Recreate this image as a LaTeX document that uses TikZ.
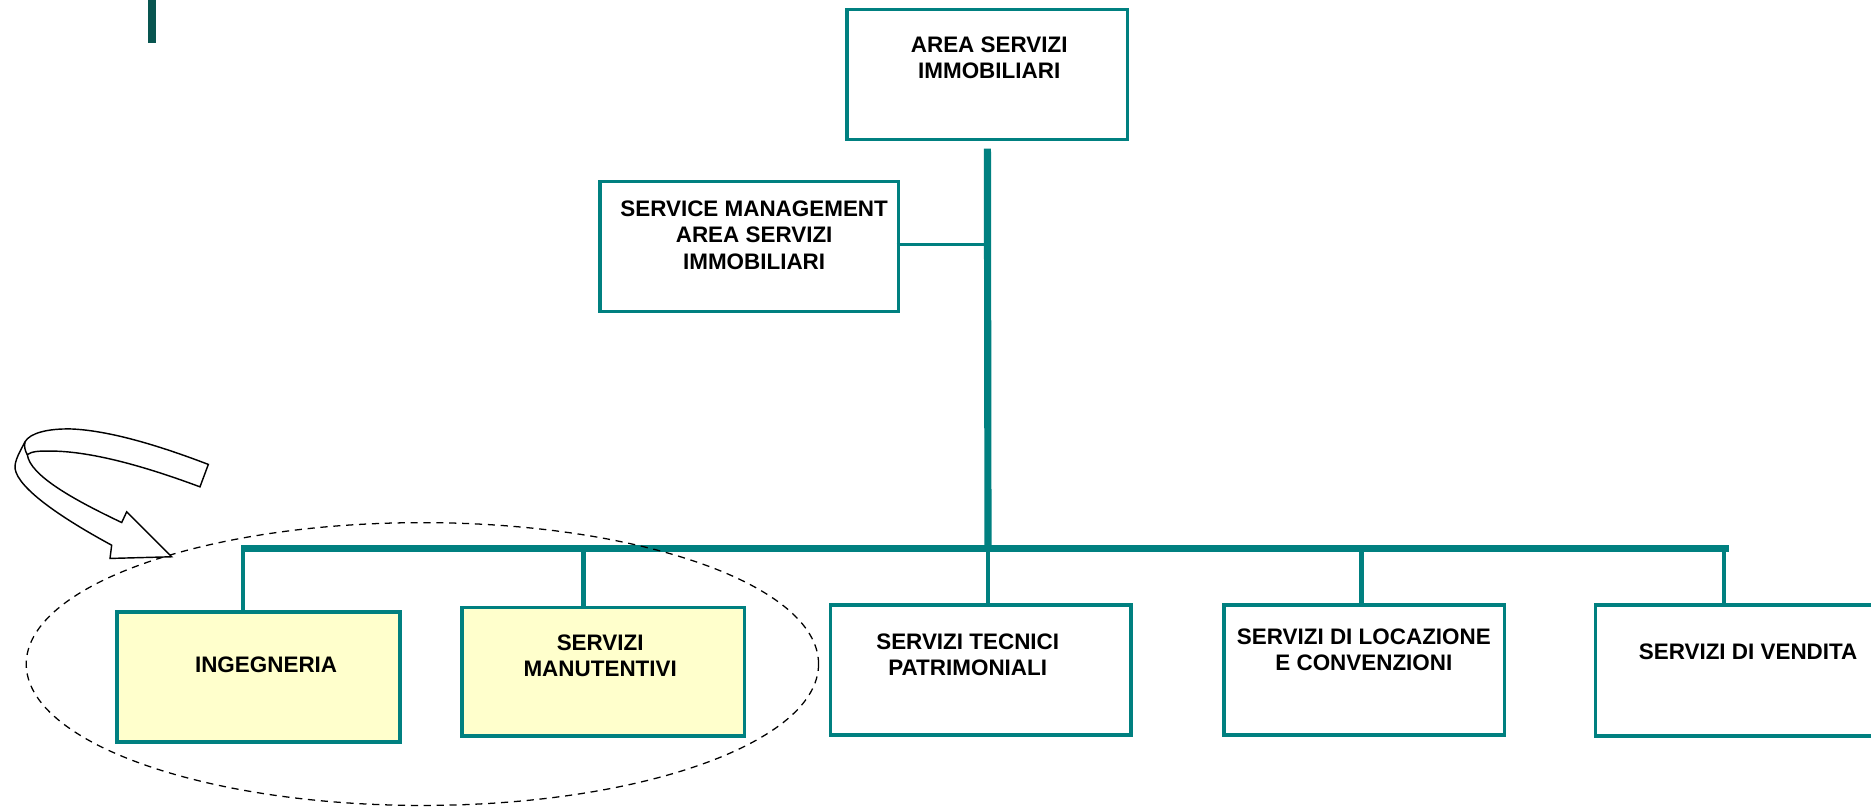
\documentclass[tikz,border=0pt]{standalone}
\usepackage{fontspec}
\setmainfont{Liberation Sans}
\usetikzlibrary{calc,shapes.geometric}
\definecolor{tealline}{RGB}{0,128,128}
\definecolor{darkteal}{RGB}{8,85,80}
\definecolor{paleyellow}{RGB}{255,255,204}
\tikzset{
  boxnode/.style={draw=tealline, line width=2.25pt, inner sep=0pt, anchor=center},
  yellowbox/.style={boxnode, fill=paleyellow},
  txt/.style={font=\bfseries\fontsize{14.1}{16.5}\selectfont, align=center, inner sep=0pt},
  barline/.style={draw=tealline, line width=4.5pt},
  dropline/.style={draw=tealline, line width=2.6pt},
  linkline/.style={draw=tealline, line width=2.3pt},
  arrowline/.style={draw=black, line width=0.9pt, fill=white, line join=miter},
  ovalline/.style={draw=black, line width=0.8pt, dash pattern=on 4.5pt off 3.6pt}
}
\begin{document}
\begin{tikzpicture}[x=0.75pt,y=-0.75pt]
\useasboundingbox (0,0) rectangle (1568,676.3);
% top-left bar
\fill[darkteal] (124,0) rectangle (131,36);
% boxes
\node[boxnode, minimum width=176.25pt, minimum height=81.75pt] (top) at (827.5,62.5) {};
\node[boxnode, minimum width=187.5pt, minimum height=81.75pt] (svc) at (628,206.5) {};
\node[yellowbox, minimum width=177.75pt, minimum height=81.75pt] (ing) at (216.5,567.5) {};
\node[yellowbox, minimum width=177.75pt, minimum height=81pt] (man) at (505.5,563) {};
\node[boxnode, minimum width=189pt, minimum height=81.75pt] (tec) at (822,561.5) {};
\node[boxnode, minimum width=176.25pt, minimum height=81.75pt] (loc) at (1143.5,561.5) {};
\node[boxnode, minimum width=178.5pt, minimum height=82.5pt] (ven) at (1456,562) {};
% texts
\node[txt] (ttop) at (829,48.5) {AREA SERVIZI\\IMMOBILIARI};
\node[txt] (tsvc) at (632,197) {SERVICE MANAGEMENT\\AREA SERVIZI\\IMMOBILIARI};
\node[txt] (ting) at (223,557) {INGEGNERIA};
\node[txt] (tman) at (503,549.5) {SERVIZI\\MANUTENTIVI};
\node[txt] (ttec) at (811,549) {SERVIZI TECNICI\\PATRIMONIALI};
\node[txt] (tloc) at (1143,544.5) {SERVIZI DI LOCAZIONE\\E CONVENZIONI};
\node[txt] (tven) at (1465,546) {SERVIZI DI VENDITA};
% connectors
\coordinate (hub) at (828,460);
\coordinate (bL) at (202,460);
\coordinate (bR) at (1449,460);
\coordinate (dI) at (204,460);
\coordinate (dM) at (489,460);
\coordinate (dL) at (1141,460);
\coordinate (dV) at (1445,460);
\draw[barline] ($(top.south)+(0,6)$) -- ($(hub)+(0,2)$);
\draw[linkline] ($(svc.east)+(-3,-1.5)$) -- ($(svc.east -| hub)+(0,-1.5)$);
\draw[barline] (bL) -- (bR);
\draw[dropline] (dI) -- (dI |- ing.north);
\draw[dropline] (dM) -- (dM |- man.north);
\draw[dropline] (hub) -- (hub |- tec.north);
\draw[dropline] (dL) -- (dL |- loc.north);
\draw[dropline] (dV) -- (dV |- ven.north);
% dashed oval
\node[ovalline, ellipse, minimum width=498pt, minimum height=177.75pt, inner sep=0pt] (oval) at (354,556.5) {};
% curved block arrow
\draw[arrowline] (174.6,389.2) .. controls (140,376) and (95,361) .. (60,359.5)
  .. controls (40,359) and (25,363) .. (21,370.2)
  .. controls (17,378) and (12,386) .. (12.6,392.6)
  .. controls (15,410) and (55,436) .. (93.6,456.9)
  -- (92.2,468) -- (143.9,466.6) -- (106.2,428.9) -- (102,437.9)
  .. controls (60,418) and (25,398) .. (22.9,381)
  .. controls (27,378) and (33,378) .. (42,378)
  .. controls (80,378) and (130,394) .. (167.6,408) -- cycle;
\draw[arrowline, fill=none] (21,370.2) .. controls (20,374) and (21,378) .. (22.9,381);
\end{tikzpicture}
\end{document}
